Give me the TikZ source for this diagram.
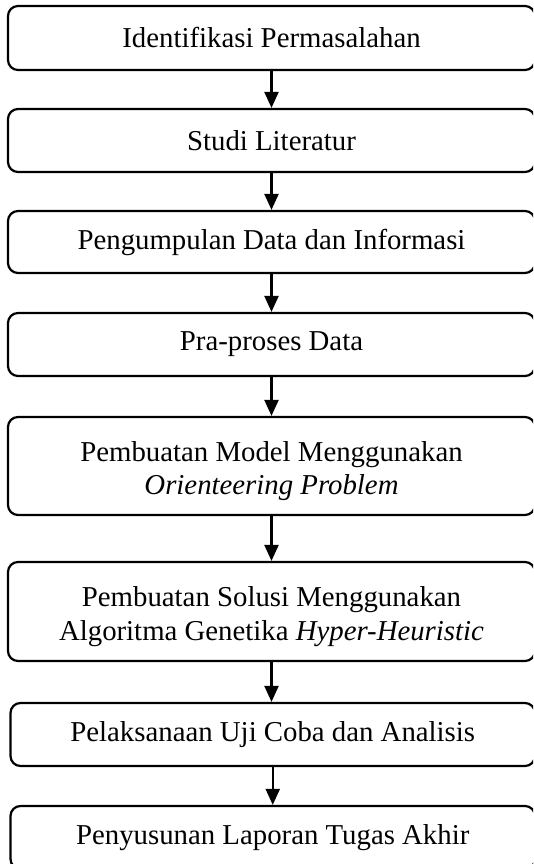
\documentclass[tikz,border=0pt]{standalone}
\usepackage{fontspec}
\setmainfont{Liberation Serif}
\usetikzlibrary{arrows.meta}
\newcommand{\lowerby}{\rule{0pt}{30pt}}
\begin{document}
\begin{tikzpicture}[x=1pt,y=-1pt,
  stepbox/.style={draw, line width=2.2pt, rounded corners=10pt, align=center,
    inner sep=0pt, minimum width=527pt,
    font=\fontsize{28.8}{33.5}\selectfont},
  arr/.style={line width=2.2pt, -{Triangle[length=16pt,width=14pt]}}]
\useasboundingbox (0,0) rectangle (533,864);
\clip (0,0) rectangle (533,864);
\node[stepbox, minimum height=64pt] (b1) at (271.5,38) {Identifikasi Permasalahan};
\node[stepbox, minimum height=63pt] (b2) at (271.5,140.5) {Studi Literatur};
\node[stepbox, minimum height=62pt] (b3) at (271.5,242) {Pengumpulan Data dan Informasi};
\node[stepbox, minimum height=63pt] (b4) at (271.5,344.5) {Pra-proses Data};
\node[stepbox, minimum height=98pt] (b5) at (271.5,466) {\lowerby Pembuatan Model Menggunakan\\\textit{Orienteering Problem}};
\node[stepbox, minimum height=99pt] (b6) at (271.5,611.5) {\lowerby Pembuatan Solusi Menggunakan\\Algoritma Genetika \textit{Hyper-Heuristic}};
\node[stepbox, minimum height=63pt, minimum width=524.5pt] (b7) at (272.75,734.5) {Pelaksanaan Uji Coba dan Analisis};
\node[stepbox, minimum height=63pt, minimum width=524.5pt] (b8) at (272.75,837.5) {Penyusunan Laporan Tugas Akhir};
\draw[arr] (b1.south) -- (b2.north);
\draw[arr] (b2.south) -- (b3.north);
\draw[arr] (b3.south) -- (b4.north);
\draw[arr] (b4.south) -- (b5.north);
\draw[arr] (b5.south) -- (b6.north);
\draw[arr] (b6.south) -- (b6.south |- b7.north);
\draw[arr] (b7.south) -- (b8.north);
\end{tikzpicture}
\end{document}
